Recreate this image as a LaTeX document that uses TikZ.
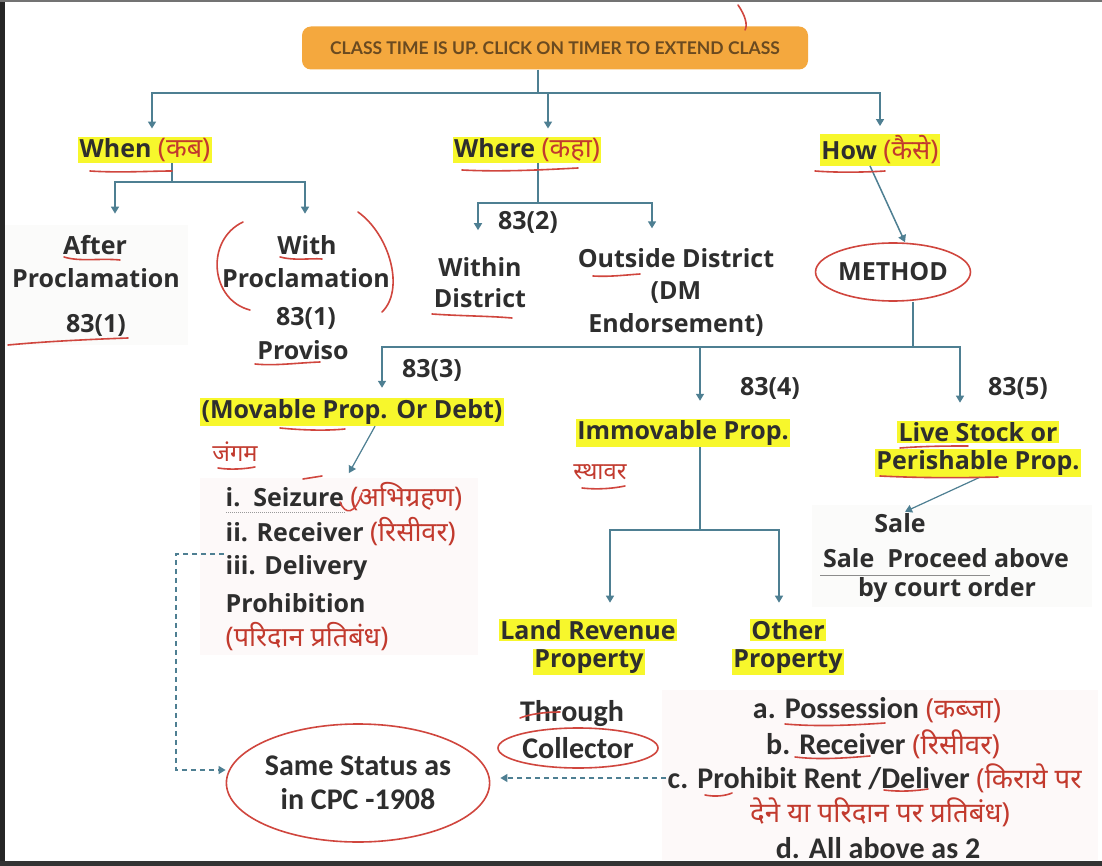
\documentclass[tikz,border=0pt]{standalone}
\usepackage{fontspec}
\setmainfont{Open Sans}
\newfontfamily\hin[Script=Devanagari, Scale=1.08]{Noto Sans}
\newfontfamily\hinc[Script=Devanagari, Scale=0.92]{Noto Sans}
\newfontfamily\cali{Carlito}
\newfontfamily\bann{Lato}
\usetikzlibrary{arrows.meta,shapes.geometric}
\definecolor{connc}{HTML}{4E7F92}
\definecolor{hlc}{HTML}{F7F72C}
\definecolor{hredc}{HTML}{C23A2E}
\definecolor{penc}{HTML}{D0463E}
\definecolor{txtc}{HTML}{2E2E2E}
\definecolor{bannerc}{HTML}{F4A83E}
\definecolor{bantext}{HTML}{6A4A20}
\definecolor{tintc}{HTML}{FDF9F9}
\definecolor{greyc}{HTML}{FBFBFA}
\newcommand\hnd[1]{{\hin\color{hredc}#1}}
\newcommand\hndc[1]{{\hinc\color{hredc}#1}}
\begin{document}
\begin{tikzpicture}[x=1pt,y=-1pt,
  every node/.style={inner sep=1.5pt, text=txtc},
  base/.style={font=\bfseries\fontsize{25}{31}\selectfont, align=center},
  hl/.style={base, fill=hlc},
  cb/.style={font=\cali\bfseries\fontsize{30}{34}\selectfont, align=center},
  conn/.style={draw=connc, line width=1.5pt},
  arr/.style={conn, -{Triangle[width=8pt,length=7pt]}},
  darr/.style={draw=connc, line width=1.4pt, dash pattern=on 5pt off 4pt, -{Triangle[width=8pt,length=7pt]}},
  pen/.style={draw=penc, line width=1.6pt, line cap=round},
  penel/.style={ellipse, draw=penc, line width=1.6pt, inner sep=0pt}
]
\path[use as bounding box] (0,0) rectangle (1102,866);
\fill[white] (0,0) rectangle (1102,866);
% faint tints
\fill[greyc] (5,225) rectangle (188,345);
\fill[tintc] (200,478) rectangle (478,655);
\fill[greyc] (812,505) rectangle (1092,607);
\fill[tintc] (662,690) rectangle (1098,860);
% frame
\fill[black!85] (0,0) rectangle (5,866);
\fill[black!80] (0,861) rectangle (1102,866);
\fill[black!55] (0,0) rectangle (1102,2);

% banner
\node[fill=bannerc, rounded corners=9pt, minimum width=506pt, minimum height=43pt,
  font=\bann\bfseries\fontsize{17.5}{19}\selectfont, text=bantext] (banner) at (555,48)
  {CLASS TIME IS UP. CLICK ON TIMER TO EXTEND CLASS};

% level 1
\node[hl] (when) at (145,150) {When \hnd{(कब)}};
\node[hl] (where) at (527,150) {Where \hnd{(कहा)}};
\node[hl] (how) at (880,150) {How \hnd{(कैसे)}};

% when children
\node[base] (after1) at (95,245) {After};
\node[base] (after2) at (96,278) {Proclamation};
\node[base] (after3) at (96,325) {83(1)};
\node[base] (with1) at (307,245) {With};
\node[base] (with2) at (306,278) {Proclamation};
\node[base] (with3) at (306,318) {83(1)};
\node[base] (with4) at (303,350) {Proviso};

% where children
\node[base] (s832) at (528,222) {83(2)};
\node[base] (within) at (480,283) {Within\\District};
\node[base, font=\bfseries\fontsize{25}{32.5}\selectfont] (outside) at (676,292) {Outside District\\(DM\\Endorsement)};

% method
\node[base, penel, minimum width=142pt, minimum height=58pt] (method) at (893,272) {METHOD};

\node[base] (s833) at (432,370) {83(3)};
\node[base] (s834) at (770,388) {83(4)};
\node[base] (s835) at (1018,388) {83(5)};

\node[hl] (movable) at (352,412) {(Movable Prop. Or Debt)};
\node[font=\fontsize{22}{25}\selectfont] (jangam) at (235,452) {\hnd{जंगम}};
\node[base, anchor=west] (li1) at (224,497) {i.\ \ Seizure \hnd{(अभिग्रहण)}};
\node[base, anchor=west] (li2) at (224,532) {ii. Receiver \hnd{(रिसीवर)}};
\node[base, anchor=west] (li3) at (224,568) {iii. Delivery};
\node[base, anchor=west] (li4) at (224,603) {Prohibition};
\node[base, anchor=west] (li5) at (224,637) {\hnd{(परिदान प्रतिबंध)}};

\node[hl] (immov) at (683,433) {Immovable Prop.};
\node[font=\fontsize{22}{25}\selectfont] (sthavar) at (600,472) {\hnd{स्थावर}};
\node[hl] (land1) at (588,630) {Land Revenue};
\node[hl] (land2) at (589,662) {Property};
\node[hl] (other1) at (788,630) {Other};
\node[hl] (other2) at (788,662) {Property};

\node[hl] (live1) at (978,432) {Live Stock or};
\node[hl] (live2) at (978,463) {Perishable Prop.};
\node[base] (sale) at (900,523) {Sale};
\node[base] (saleproc) at (946,558) {Sale\ \ Proceed above};
\node[base] (court) at (947,590) {by court order};

\node[cb] (through) at (572,714) {Through};
\node[cb, penel, minimum width=160pt, minimum height=40pt] (collector) at (578,748) {Collector};
\node[cb, penel, minimum width=236pt, minimum height=118pt] (same) at (358,783) {Same Status as\\in CPC -1908};

\node[cb] (pa) at (877,710) {a. Possession \hndc{(कब्जा)}};
\node[cb] (pb) at (883,744) {b. Receiver \hndc{(रिसीवर)}};
\node[cb, anchor=west] (pc) at (666,778) {c. Prohibit Rent /Deliver \hndc{(किराये पर}};
\node[cb] (pd) at (880,812) {\hndc{देने या परिदान पर प्रतिबंध)}};
\node[cb] (pe) at (878,848) {d. All above as 2};

% junction coordinates
\coordinate (tj) at (538,93);
\coordinate (whj) at (172,182);
\coordinate (wj) at (538,203);
\coordinate (mj) at (913,347);
\coordinate (ij) at (700,530);
\coordinate (dl) at (176,553);

% connectors
\draw[conn] (banner.south -| tj) -- (tj);
\draw[arr, shorten >=8pt] (tj) -| ([xshift=7pt]when.north);
\draw[arr, shorten >=8pt] (tj) -| ([xshift=21pt]where.north);
\draw[arr, shorten >=8pt] (tj) -| (how.north);

\draw[conn] (when.south -| whj) -- (whj);
\draw[arr, shorten >=20pt] (whj) -| ([xshift=20pt]after1.north);
\draw[arr, shorten >=20pt] (whj) -| ([xshift=-2pt]with1.north);

\draw[conn] (where.south -| wj) -- (wj);
\draw[arr, shorten >=26pt] (wj) -| ([xshift=-2pt]within.north);
\draw[arr, shorten >=18pt] (wj) -| ([xshift=-24pt]outside.north);

\draw[arr] ([xshift=-10pt]how.south) -- ([xshift=12pt]method.north);

\draw[conn] (method.south -| mj) -- (mj);
\draw[arr, shorten >=10pt] (mj) -| ([xshift=30pt]movable.north);
\draw[arr, shorten >=18pt] (mj) -| ([xshift=17pt]immov.north);
\draw[arr, shorten >=18pt] (mj) -| ([xshift=-18pt]live1.north);

\draw[arr, line width=1.2pt] ([xshift=23pt]movable.south) -- ([xshift=5pt,yshift=8pt]li1.north);

\draw[conn] ([xshift=17pt]immov.south) -- (ij);
\draw[arr, shorten >=16pt] (ij) -| ([xshift=22pt]land1.north);
\draw[arr, shorten >=16pt] (ij) -| ([xshift=-9pt]other1.north);

\draw[arr, line width=1.2pt] ([xshift=2pt]live2.south) -- ([xshift=5pt]sale.north);

\draw[darr] (li3.north west) -- (li3.north west -| dl) |- ([yshift=13pt]same.west);
\draw[darr] (pc.west) -- ([xshift=10pt]pc.west -| same.east);

% thin grey underlines
\draw[black!45, line width=0.8pt] (820,575) -- (990,575);
\draw[black!40, line width=0.8pt, dash pattern=on 1pt off 1pt] (226,512) -- (345,512);

% hand-drawn pen marks
\draw[pen] (90,171) .. controls (120,173) and (150,171) .. (172,171);
\draw[pen] (462,170) .. controls (500,172) and (540,170) .. (578,168);
\draw[pen] (815,171) .. controls (840,173) and (870,172) .. (885,171);
\draw[pen] (64,257) .. controls (80,262) and (100,258) .. (120,260);
\draw[pen] (280,257) .. controls (295,261) and (310,258) .. (322,259);
\draw[pen] (8,345) .. controls (50,341) and (100,339) .. (128,338);
\draw[pen] (243,222) .. controls (205,240) and (210,300) .. (250,310);
\draw[pen] (358,212) .. controls (390,235) and (405,290) .. (382,312);
\draw[pen] (255,364) .. controls (275,366) and (295,363) .. (320,362);
\draw[pen] (432,314) .. controls (460,316) and (490,316) .. (512,318);
\draw[pen] (593,276) .. controls (610,277) and (625,275) .. (640,274);
\draw[pen] (280,428) .. controls (300,430) and (325,431) .. (345,429);
\draw[pen] (218,468) .. controls (230,470) and (245,469) .. (255,467);
\draw[pen] (303,479) -- (322,476);
\draw[pen] (340,502) .. controls (345,515) and (355,515) .. (362,493);
\draw[pen] (582,488) .. controls (600,490) and (615,488) .. (625,486);
\draw[pen] (900,448) .. controls (925,446) and (950,446) .. (968,446);
\draw[pen] (880,476) .. controls (920,478) and (960,478) .. (998,477);
\draw[pen] (520,718) .. controls (530,714) and (545,712) .. (560,712);
\draw[pen] (785,724) .. controls (820,727) and (855,725) .. (885,723);
\draw[pen] (795,757) .. controls (820,760) and (845,758) .. (870,756);
\draw[pen] (705,795) .. controls (715,797) and (725,796) .. (732,793);
\draw[pen] (884,790) .. controls (900,792) and (915,791) .. (928,789);
\draw[pen] (738,5) .. controls (745,15) and (748,25) .. (745,30);
\end{tikzpicture}
\end{document}
